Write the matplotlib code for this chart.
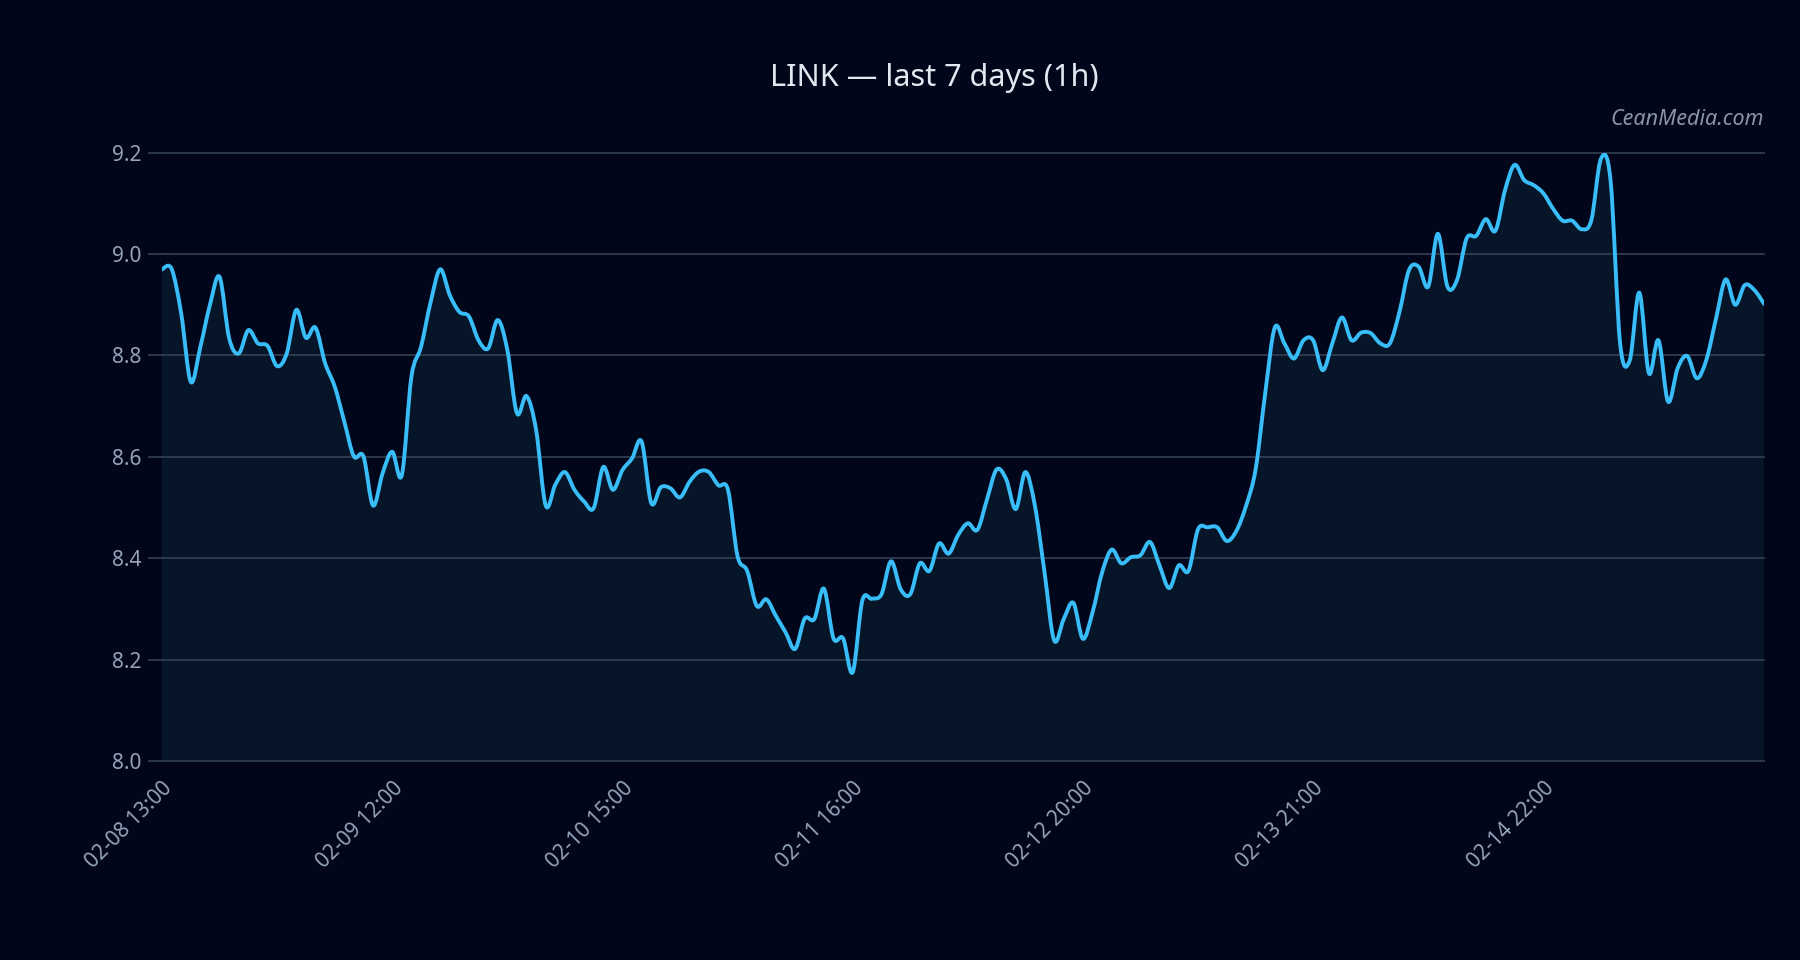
import numpy as np
import matplotlib
matplotlib.use("Agg")
import matplotlib.pyplot as plt
from matplotlib.path import Path
from matplotlib.patches import PathPatch

# hourly LINK closes, 168 points
prices = [
    8.970, 8.971, 8.883, 8.748, 8.817, 8.900, 8.955, 8.834, 8.804, 8.850,
    8.824, 8.819, 8.779, 8.804, 8.890, 8.835, 8.855, 8.785, 8.739, 8.670,
    8.601, 8.601, 8.504, 8.568, 8.610, 8.564, 8.758, 8.817, 8.905, 8.970,
    8.919, 8.886, 8.877, 8.830, 8.814, 8.870, 8.811, 8.686, 8.720, 8.653,
    8.504, 8.545, 8.570, 8.535, 8.512, 8.499, 8.580, 8.535, 8.574, 8.597,
    8.630, 8.509, 8.540, 8.538, 8.520, 8.551, 8.571, 8.570, 8.544, 8.535,
    8.404, 8.375, 8.306, 8.319, 8.286, 8.254, 8.221, 8.281, 8.280, 8.340,
    8.242, 8.242, 8.175, 8.316, 8.320, 8.329, 8.394, 8.339, 8.329, 8.390,
    8.375, 8.429, 8.409, 8.446, 8.469, 8.456, 8.516, 8.575, 8.556, 8.497,
    8.570, 8.503, 8.372, 8.238, 8.280, 8.312, 8.241, 8.293, 8.372, 8.417,
    8.390, 8.402, 8.406, 8.432, 8.385, 8.341, 8.386, 8.375, 8.457, 8.461,
    8.461, 8.434, 8.454, 8.503, 8.575, 8.725, 8.855, 8.824, 8.794, 8.830,
    8.830, 8.771, 8.824, 8.875, 8.830, 8.845, 8.844, 8.824, 8.824, 8.886,
    8.969, 8.975, 8.936, 9.040, 8.936, 8.949, 9.031, 9.036, 9.069, 9.046,
    9.126, 9.176, 9.146, 9.136, 9.120, 9.090, 9.066, 9.066, 9.049, 9.067,
    9.188, 9.146, 8.824, 8.790, 8.924, 8.765, 8.830, 8.709, 8.775, 8.799,
    8.755, 8.792, 8.873, 8.950, 8.900, 8.939, 8.929, 8.902,
]
tick_idx = [0, 24, 48, 72, 96, 120, 144]
tick_labels = ["02-08 13:00", "02-09 12:00", "02-10 15:00", "02-11 16:00",
               "02-12 20:00", "02-13 21:00", "02-14 22:00"]
yticks = [8.0, 8.2, 8.4, 8.6, 8.8, 9.0, 9.2]

BG = "#01061a"
FILL = "#061528"
LINE = "#38bdf8"
GRID = "#334155"
TXT = "#94a3b8"

plt.rcParams["font.family"] = ["Noto Sans", "DejaVu Sans"]

fig = plt.figure(figsize=(18, 9.6), dpi=100, facecolor=BG)
ax = fig.add_axes([0.09, 0.2073, 0.89, 0.6336])
ax.set_facecolor(BG)

x = np.arange(len(prices), dtype=float)
y = np.array(prices)


def smooth_path(xs, ys):
    # catmull-rom segments as cubic beziers
    pts = np.column_stack([xs, ys])
    n = len(pts)
    verts = [pts[0]]
    codes = [Path.MOVETO]
    for i in range(n - 1):
        p0 = pts[max(i - 1, 0)]
        p1 = pts[i]
        p2 = pts[i + 1]
        p3 = pts[min(i + 2, n - 1)]
        c1 = p1 + (p2 - p0) / 6.0
        c2 = p2 - (p3 - p1) / 6.0
        verts += [c1, c2, p2]
        codes += [Path.CURVE4] * 3
    return verts, codes


verts, codes = smooth_path(x, y)

# area under the curve
fv = list(verts) + [(x[-1], 8.0), (x[0], 8.0), (x[0], y[0])]
fc = list(codes) + [Path.LINETO, Path.LINETO, Path.CLOSEPOLY]
ax.add_patch(PathPatch(Path(fv, fc), facecolor=FILL, edgecolor="none", zorder=1))

ax.add_patch(PathPatch(Path(verts, codes), facecolor="none", edgecolor=LINE,
                       lw=2.8, capstyle="round", joinstyle="round", zorder=3))

ax.set_xlim(0, len(prices) - 1)
ax.set_ylim(8.0, 9.2)
ax.set_yticks(yticks)
ax.set_yticklabels([f"{v:.1f}" for v in yticks])
ax.set_xticks(tick_idx)
ax.set_xticklabels(tick_labels, rotation=45, ha="right", rotation_mode="anchor")

ax.grid(axis="y", color=GRID, lw=1.2, zorder=2)
ax.set_axisbelow(False)
for s in ax.spines.values():
    s.set_visible(False)
ax.tick_params(axis="y", colors=GRID, labelcolor=TXT, labelsize=15,
               length=10, width=1.2, pad=5)
ax.tick_params(axis="x", length=0, labelcolor=TXT, labelsize=15, pad=12)
for gl in ax.get_ygridlines():
    gl.set_clip_on(False)

fig.text(0.519, 0.919, "LINK — last 7 days (1h)", color="#e2e8f0",
         fontsize=22, ha="center", va="center")
fig.text(0.98, 0.876, "CeanMedia.com", color="#8a94a8", fontsize=15.5,
         style="italic", ha="right", va="center")

fig.savefig("out.png", dpi=100, facecolor=BG)
